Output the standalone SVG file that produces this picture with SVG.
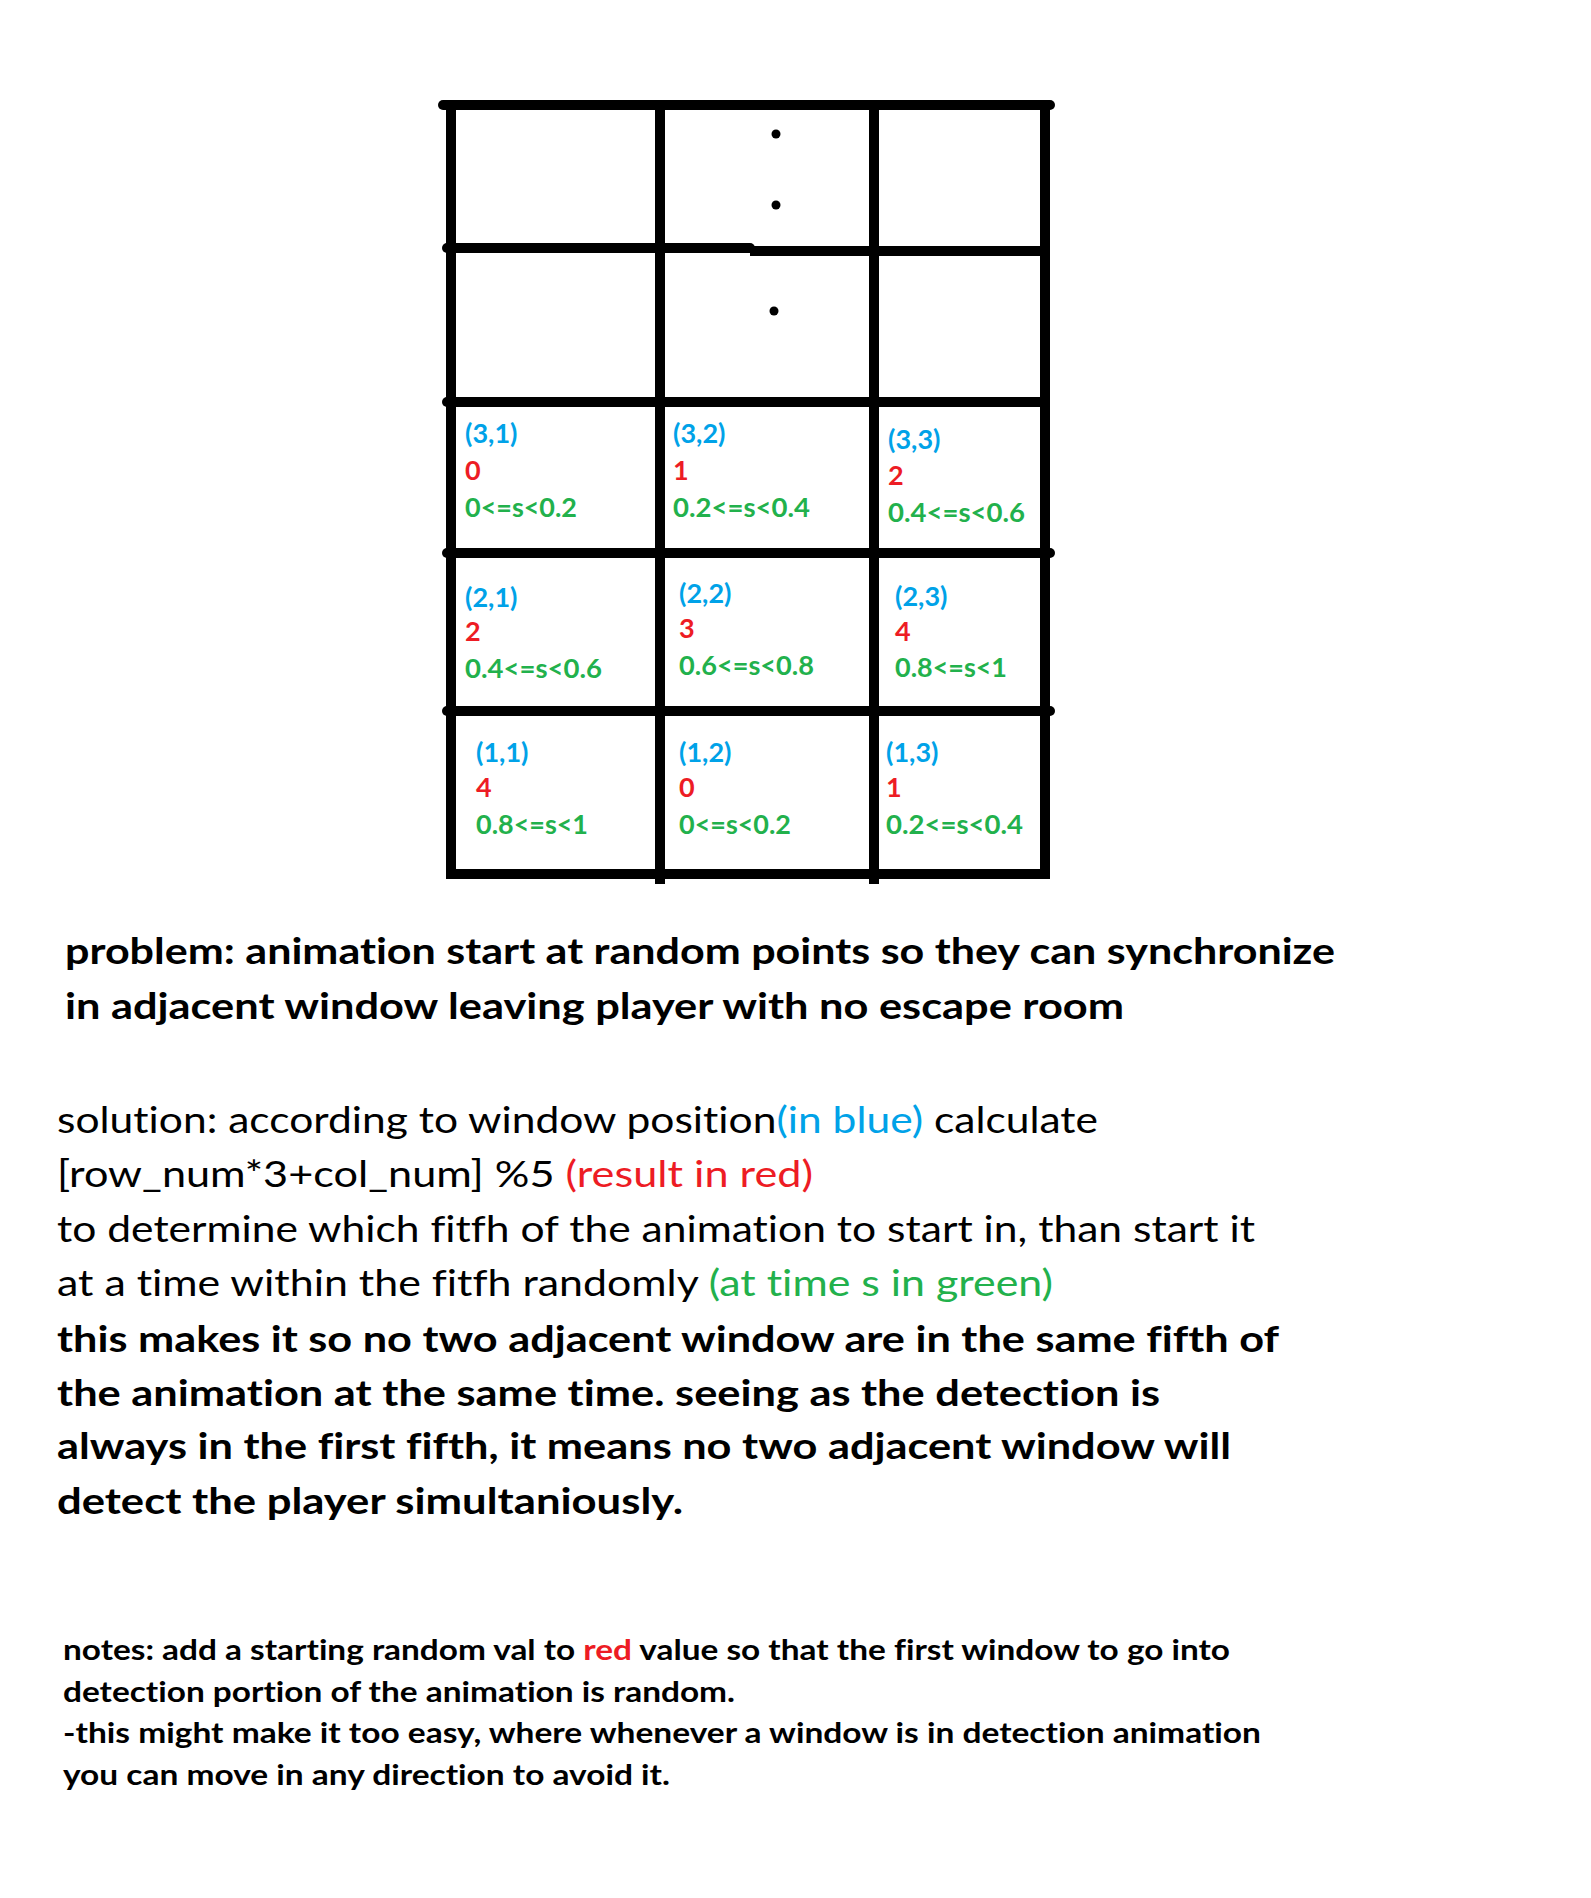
<svg xmlns="http://www.w3.org/2000/svg" width="1591" height="1898" viewBox="0 0 1591 1898">
<style>
.g{stroke:#000;stroke-width:10;fill:none}
.r{stroke-linecap:round}
text{font-family:Lato,"Open Sans","DejaVu Sans",sans-serif;font-variant-ligatures:none}
.c{font-size:27px;font-weight:700}
.b{fill:#00A2E8}
.rd{fill:#ED1C24}
.gr{fill:#22B14C}
.p{font-size:37px;font-weight:700;fill:#000}
.s{font-size:37px;font-weight:400;fill:#000}
.n{font-size:28px;font-weight:700;fill:#000}
.dot{fill:#000}
</style>
<rect width="1591" height="1898" fill="#fff"/>
<g id="grid">
<path d="M443 105 H1050" class="g r" stroke-width="11"/>
<path d="M447 248 H750" class="g r"/>
<path d="M750 251 H1050" class="g"/>
<path d="M447 402 H1045" class="g r"/>
<path d="M447 553 H1050" class="g r"/>
<path d="M447 711 H1050" class="g r"/>
<path d="M446 874 H1050" class="g"/>
<path d="M451 102 V879" class="g"/>
<path d="M660 105 V884" class="g"/>
<path d="M874 105 V884" class="g"/>
<path d="M1045 102 V879" class="g"/>
</g>
<g id="connectors"/>
<g id="cell-5-1"/>
<g id="cell-5-2">
<circle class="dot" cx="776" cy="134" r="4.5"/>
<circle class="dot" cx="776" cy="205" r="4.5"/>
</g>
<g id="cell-5-3"/>
<g id="cell-4-1"/>
<g id="cell-4-2">
<circle class="dot" cx="774" cy="311" r="4.5"/>
</g>
<g id="cell-4-3"/>
<g id="cell-3-1" class="c">
<text x="465" y="443" class="b">(3,1)</text>
<text x="465" y="480" class="rd">0</text>
<text x="465" y="517" class="gr" textLength="112" lengthAdjust="spacingAndGlyphs">0&lt;=s&lt;0.2</text>
</g>
<g id="cell-3-2" class="c">
<text x="673" y="443" class="b">(3,2)</text>
<text x="673" y="480" class="rd">1</text>
<text x="673" y="517" class="gr" textLength="137" lengthAdjust="spacingAndGlyphs">0.2&lt;=s&lt;0.4</text>
</g>
<g id="cell-3-3" class="c">
<text x="888" y="449" class="b">(3,3)</text>
<text x="888" y="485" class="rd">2</text>
<text x="888" y="522" class="gr" textLength="137" lengthAdjust="spacingAndGlyphs">0.4&lt;=s&lt;0.6</text>
</g>
<g id="cell-2-1" class="c">
<text x="465" y="607" class="b">(2,1)</text>
<text x="465" y="641" class="rd">2</text>
<text x="465" y="678" class="gr" textLength="137" lengthAdjust="spacingAndGlyphs">0.4&lt;=s&lt;0.6</text>
</g>
<g id="cell-2-2" class="c">
<text x="679" y="603" class="b">(2,2)</text>
<text x="679" y="638" class="rd">3</text>
<text x="679" y="675" class="gr" textLength="135" lengthAdjust="spacingAndGlyphs">0.6&lt;=s&lt;0.8</text>
</g>
<g id="cell-2-3" class="c">
<text x="895" y="606" class="b">(2,3)</text>
<text x="895" y="641" class="rd">4</text>
<text x="895" y="677" class="gr" textLength="112" lengthAdjust="spacingAndGlyphs">0.8&lt;=s&lt;1</text>
</g>
<g id="cell-1-1" class="c">
<text x="476" y="762" class="b">(1,1)</text>
<text x="476" y="797" class="rd">4</text>
<text x="476" y="834" class="gr" textLength="112" lengthAdjust="spacingAndGlyphs">0.8&lt;=s&lt;1</text>
</g>
<g id="cell-1-2" class="c">
<text x="679" y="762" class="b">(1,2)</text>
<text x="679" y="797" class="rd">0</text>
<text x="679" y="834" class="gr" textLength="112" lengthAdjust="spacingAndGlyphs">0&lt;=s&lt;0.2</text>
</g>
<g id="cell-1-3" class="c">
<text x="886" y="762" class="b">(1,3)</text>
<text x="886" y="797" class="rd">1</text>
<text x="886" y="834" class="gr" textLength="137" lengthAdjust="spacingAndGlyphs">0.2&lt;=s&lt;0.4</text>
</g>
<g id="problem">
<text x="65" y="964" class="p" textLength="1270" lengthAdjust="spacingAndGlyphs">problem: animation start at random points so they can synchronize</text>
<text x="65" y="1019" class="p" textLength="1059" lengthAdjust="spacingAndGlyphs">in adjacent window leaving player with no escape room</text>
</g>
<g id="solution">
<text x="57" y="1133" class="s" textLength="1041" lengthAdjust="spacingAndGlyphs">solution: according to window position<tspan class="b">(in blue)</tspan> calculate</text>
<text x="57" y="1187" class="s" textLength="756" lengthAdjust="spacingAndGlyphs">[row_num*3+col_num] %5 <tspan class="rd">(result in red)</tspan></text>
<text x="57" y="1242" class="s" textLength="1198" lengthAdjust="spacingAndGlyphs">to determine which fitfh of the animation to start in, than start it</text>
<text x="57" y="1296" class="s" textLength="996" lengthAdjust="spacingAndGlyphs">at a time within the fitfh randomly <tspan class="gr">(at time s in green)</tspan></text>
<text x="57" y="1352" class="p" textLength="1222" lengthAdjust="spacingAndGlyphs">this makes it so no two adjacent window are in the same fifth of</text>
<text x="57" y="1406" class="p" textLength="1103" lengthAdjust="spacingAndGlyphs">the animation at the same time. seeing as the detection is</text>
<text x="57" y="1459" class="p" textLength="1174" lengthAdjust="spacingAndGlyphs">always in the first fifth, it means no two adjacent window will</text>
<text x="57" y="1514" class="p" textLength="626" lengthAdjust="spacingAndGlyphs">detect the player simultaniously.</text>
</g>
<g id="notes">
<text x="63" y="1660" class="n" textLength="1167" lengthAdjust="spacingAndGlyphs">notes: add a starting random val to <tspan class="rd">red</tspan> value so that the first window to go into</text>
<text x="63" y="1702" class="n" textLength="672" lengthAdjust="spacingAndGlyphs">detection portion of the animation is random.</text>
<text x="63" y="1743" class="n" textLength="1198" lengthAdjust="spacingAndGlyphs">-this might make it too easy, where whenever a window is in detection animation</text>
<text x="63" y="1785" class="n" textLength="607" lengthAdjust="spacingAndGlyphs">you can move in any direction to avoid it.</text>
</g>
</svg>
